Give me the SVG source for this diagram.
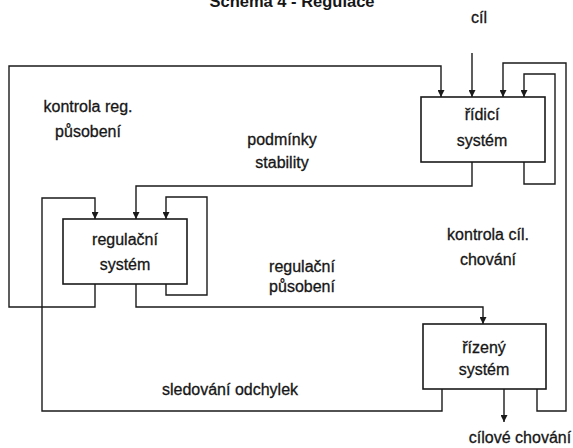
<svg xmlns="http://www.w3.org/2000/svg" width="573" height="448" viewBox="0 0 573 448">
<defs>
<style>
.box{fill:#fff;stroke:#1a1a1a;stroke-width:1.6}
.c{fill:none;stroke:#1a1a1a;stroke-width:1.4}
text{font-family:"Liberation Sans",Arial,sans-serif;font-size:16px;fill:#161616;stroke:#161616;stroke-width:0.3;text-anchor:middle}
.t{font-weight:bold;font-size:16.5px;stroke-width:0}
</style>
<marker id="ah" viewBox="0 0 8 8" refX="8" refY="4" markerWidth="7" markerHeight="7" markerUnits="userSpaceOnUse" orient="auto">
<path d="M0,0 L8,4 L0,8 z" fill="#1a1a1a"/>
</marker>
</defs>
<rect width="573" height="448" fill="#fff"/>
<text class="t" x="292" y="7">Schema 4 - Regulace</text>
<text x="479" y="23">cíl</text>
<g id="connectors">
<path class="c" d="M95,284 V307 H9 V66 H441 V97" marker-end="url(#ah)"/>
<path class="c" d="M472,53 V97" marker-end="url(#ah)"/>
<path class="c" d="M537,389 V411 H566 V63 H503 V97" marker-end="url(#ah)"/>
<path class="c" d="M524,162 V184 H555 V74 H524 V97" marker-end="url(#ah)"/>
<path class="c" d="M472,162 V186 H136 V219" marker-end="url(#ah)"/>
<path class="c" d="M166,284 V295 H207 V197 H166 V219" marker-end="url(#ah)"/>
<path class="c" d="M442,389 V411 H42 V198 H95 V219" marker-end="url(#ah)"/>
<path class="c" d="M136,284 V307 H483 V324" marker-end="url(#ah)"/>
<path class="c" d="M504,389 V422" marker-end="url(#ah)"/>
</g>
<g id="ridici">
<rect class="box" x="421" y="97" width="124" height="65"/>
<text x="482" y="120">řídicí</text>
<text x="482" y="146">systém</text>
</g>
<g id="regulacni">
<rect class="box" x="63" y="219" width="124" height="65"/>
<text x="125" y="245">regulační</text>
<text x="125" y="270">systém</text>
</g>
<g id="rizeny">
<rect class="box" x="423" y="324" width="123" height="65"/>
<text x="484" y="353">řízený</text>
<text x="484" y="375">systém</text>
</g>
<g id="labels">
<text x="88" y="112">kontrola reg.</text>
<text x="88" y="137">působení</text>
<text x="282" y="145">podmínky</text>
<text x="282" y="168">stability</text>
<text x="302" y="272">regulační</text>
<text x="302" y="292">působení</text>
<text x="488" y="240">kontrola cíl.</text>
<text x="488" y="265">chování</text>
<text x="230" y="395">sledování odchylek</text>
<text x="520" y="443">cílové chování</text>
</g>
</svg>
